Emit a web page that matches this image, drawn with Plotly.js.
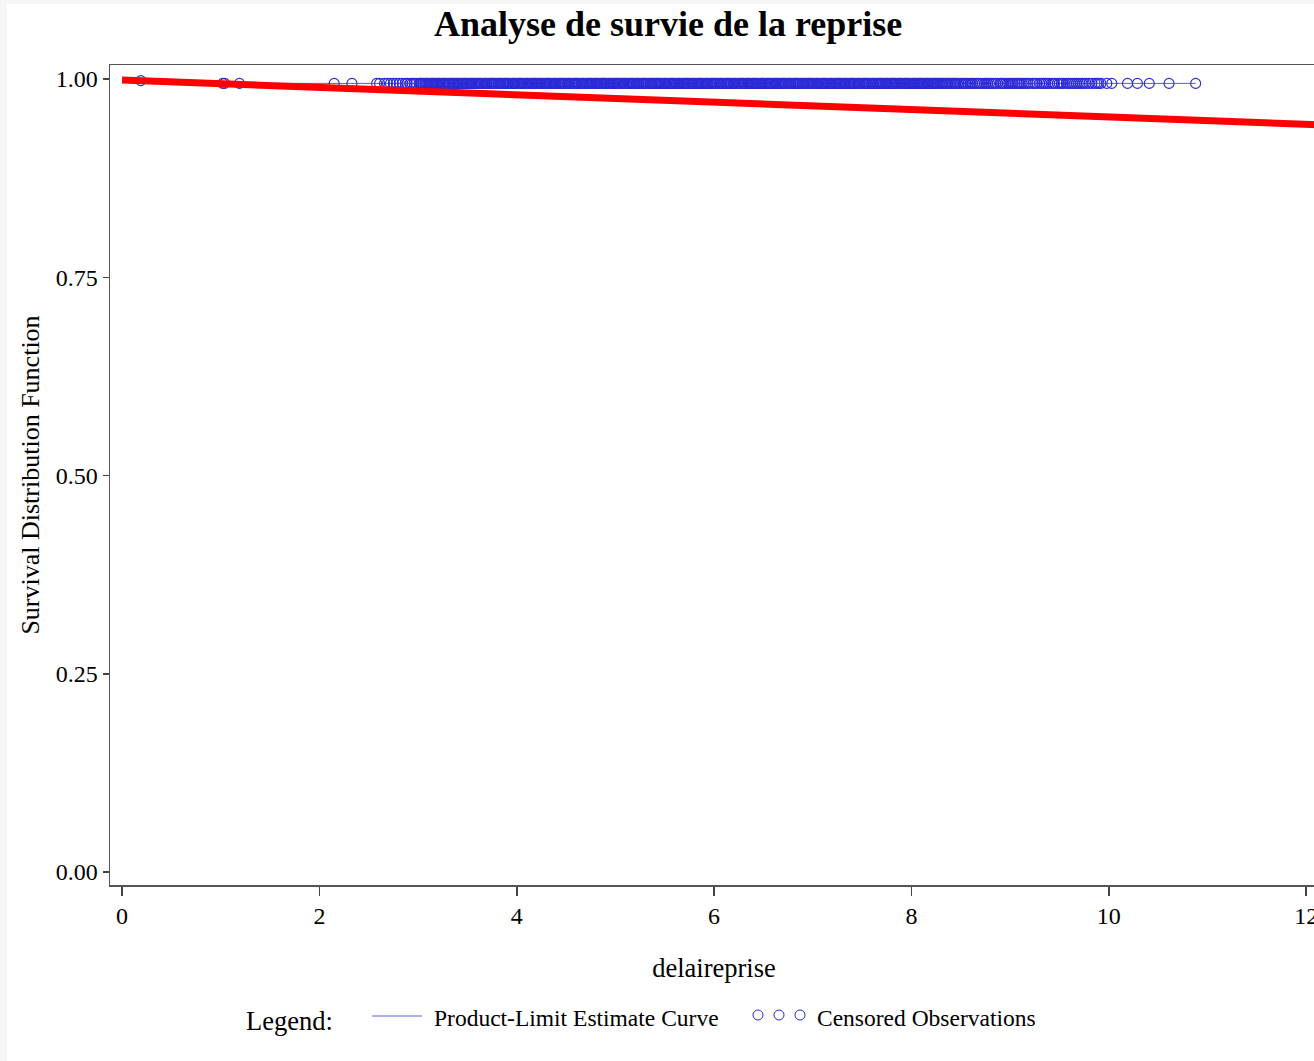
<!DOCTYPE html>
<html>
<head>
<meta charset="utf-8">
<script src="https://cdn.plot.ly/plotly-3.0.1.min.js"></script>
<style>
html,body{margin:0;padding:0;background:#f6f6f6;overflow:hidden;}
#chart{position:absolute;left:7px;top:4px;width:1323px;height:1057px;background:#fff;}
</style>
</head>
<body>
<div id="chart"></div>
<script>
// Product-limit (Kaplan-Meier) step curve
const kmTimes = [0, 0.10, 0.60, 10.88];
const kmSurv  = [1.000, 0.998, 0.9945, 0.9945];

// Censored observation times (delaireprise)
const censorTimesA = [
0.19, 1.02, 1.04, 1.19, 2.15, 2.33, 2.58, 2.61, 2.66, 2.69, 2.72, 2.75, 2.78, 2.81, 2.84, 2.87, 2.89, 2.92, 2.94, 2.96, 2.98,
3.01, 3.03, 3.04, 3.07, 3.09, 3.10, 3.13, 3.15, 3.16, 3.19, 3.21, 3.22, 3.25, 3.27, 3.28, 3.31, 3.33, 3.35, 3.36, 3.39, 3.41, 3.42, 3.45, 3.47, 3.49, 3.50, 3.53, 3.55, 3.56, 3.59, 3.61, 3.63, 3.64, 3.67, 3.69, 3.70, 3.73, 3.75, 3.77, 3.78, 3.81, 3.83, 3.84, 3.87, 3.89, 3.91, 3.92, 3.95, 3.97, 3.98,
4.01, 4.03, 4.05, 4.06, 4.09, 4.11, 4.12, 4.15, 4.17, 4.19, 4.20, 4.23, 4.25, 4.26, 4.29, 4.31, 4.33, 4.34, 4.37, 4.39, 4.40, 4.43, 4.45, 4.47, 4.48, 4.51, 4.53, 4.54, 4.57, 4.59, 4.61, 4.62, 4.65, 4.67, 4.68, 4.71, 4.73, 4.75, 4.76, 4.79, 4.81, 4.82, 4.85, 4.87, 4.89, 4.90, 4.93, 4.95, 4.96, 4.99,
5.01, 5.03, 5.04, 5.07, 5.09, 5.10, 5.13, 5.15, 5.17, 5.18, 5.21, 5.23, 5.24, 5.27, 5.29, 5.31, 5.32, 5.35, 5.37, 5.38, 5.41, 5.43, 5.45, 5.46, 5.49, 5.51, 5.52, 5.55, 5.57, 5.59, 5.60, 5.63, 5.65, 5.66, 5.69, 5.71, 5.73, 5.74, 5.77, 5.79, 5.80, 5.83, 5.85, 5.87, 5.88, 5.91, 5.93, 5.94, 5.97, 5.99,
6.01, 6.02, 6.05, 6.07, 6.08, 6.11, 6.13, 6.15, 6.16, 6.19, 6.21, 6.22, 6.25, 6.27, 6.29, 6.30, 6.33, 6.35, 6.36, 6.39, 6.41, 6.43, 6.44, 6.47, 6.49, 6.50, 6.53, 6.55, 6.57, 6.58, 6.61, 6.63, 6.64, 6.67, 6.69, 6.71, 6.72, 6.75, 6.77, 6.78, 6.81, 6.83, 6.85, 6.86, 6.89, 6.91, 6.92, 6.95, 6.97, 6.99,
7.00, 7.03, 7.05, 7.06, 7.09, 7.11, 7.13, 7.14, 7.17, 7.19, 7.20, 7.23, 7.25, 7.27, 7.28, 7.31, 7.33, 7.34, 7.37, 7.39, 7.41, 7.42, 7.45, 7.47, 7.48, 7.51, 7.53, 7.55, 7.56, 7.59, 7.61, 7.62, 7.65, 7.67, 7.69, 7.70, 7.73, 7.75, 7.76, 7.79, 7.81, 7.83, 7.84, 7.87, 7.89, 7.90, 7.93, 7.95, 7.97, 7.98,
8.01, 8.03, 8.04, 8.07, 8.09, 8.11, 8.12, 8.15, 8.17, 8.18, 8.21, 8.23, 8.25, 8.27, 8.30, 8.32, 8.35, 8.37, 8.40, 8.43, 8.45, 8.48, 8.52, 8.55, 8.59, 8.62, 8.66, 8.70, 8.74, 8.77, 8.81, 8.85, 8.90, 8.93, 8.97,
9.00, 9.03, 9.07, 9.10, 9.14, 9.18, 9.23, 9.27, 9.32, 9.36, 9.40, 9.45, 9.50, 9.54, 9.57, 9.61, 9.65, 9.69, 9.73, 9.77, 9.83, 9.88, 9.90, 9.98,
10.03, 10.19, 10.29, 10.41, 10.61, 10.88
];
const censorTimesB = [
3.02, 3.055, 3.08, 3.115, 3.14, 3.175, 3.20, 3.235, 3.26, 3.295, 3.32, 3.345, 3.375, 3.40, 3.435, 3.46, 3.48, 3.515, 3.54, 3.575, 3.60, 3.62, 3.655, 3.68, 3.715, 3.74, 3.76, 3.795, 3.82, 3.855, 3.88, 3.90, 3.935, 3.96, 3.99,
4.02, 4.04, 4.075, 4.10, 4.135, 4.16, 4.18, 4.215, 4.24, 4.275, 4.30, 4.32, 4.355, 4.38, 4.415, 4.44, 4.46, 4.495, 4.52, 4.555, 4.58, 4.60, 4.635, 4.66, 4.695, 4.72, 4.74, 4.775, 4.80, 4.835, 4.86, 4.88, 4.915, 4.94, 4.975,
5.00, 5.02, 5.055, 5.08, 5.115, 5.14, 5.16, 5.195, 5.22, 5.255, 5.28, 5.30, 5.335, 5.36, 5.395, 5.42, 5.44, 5.475, 5.50, 5.535, 5.56, 5.58, 5.615, 5.64, 5.675, 5.70, 5.72, 5.755, 5.78, 5.815, 5.84, 5.86, 5.895, 5.92, 5.955, 5.98,
6.00, 6.035, 6.06, 6.095, 6.12, 6.14, 6.175, 6.20, 6.235, 6.26, 6.28, 6.315, 6.34, 6.375, 6.40, 6.42, 6.455, 6.48, 6.515, 6.54, 6.56, 6.595, 6.62, 6.655, 6.68, 6.70, 6.735, 6.76, 6.795, 6.82, 6.84, 6.875, 6.90, 6.935, 6.96, 6.98,
7.015, 7.04, 7.075, 7.10, 7.12, 7.155, 7.18, 7.215, 7.24, 7.26, 7.295, 7.32, 7.355, 7.38, 7.40, 7.435, 7.46, 7.495, 7.52, 7.54, 7.575, 7.60, 7.635, 7.66, 7.68, 7.715, 7.74, 7.775, 7.80, 7.82, 7.855, 7.88, 7.915, 7.94, 7.96, 7.995,
8.02, 8.055, 8.08, 8.10, 8.135, 8.16, 8.195, 8.22, 8.24, 8.26, 8.285, 8.31, 8.335, 8.36, 8.385, 8.415, 8.44, 8.465, 8.50, 8.535, 8.57, 8.605, 8.64, 8.68, 8.72, 8.755, 8.79, 8.83, 8.87, 8.915, 8.95, 8.985,
9.02, 9.05, 9.085, 9.12, 9.16, 9.20, 9.25, 9.30, 9.34, 9.38, 9.43, 9.48, 9.52, 9.59, 9.63, 9.67, 9.71, 9.75, 9.80, 9.86, 9.92
];
const censorTimes = censorTimesA.concat(censorTimesB);

// Fitted (red) survival line end points
const fitTimes = [0, 12.20];
const fitSurv  = [0.9987, 0.9420];

const xTickVals = [0, 2, 4, 6, 8, 10, 12];
const yTickVals = [0, 0.25, 0.5, 0.75, 1];
const yTickText = ['0.00', '0.25', '0.50', '0.75', '1.00'];

const titleText = 'Analyse de survie de la reprise';
const xTitle = 'delaireprise';
const yTitle = 'Survival Distribution Function';
const legendLabel = 'Legend:';
const legendNames = ['Product-Limit Estimate Curve', 'Censored Observations'];

function survAt(t) {
  let s = kmSurv[0];
  for (let i = 0; i < kmTimes.length; i++) { if (kmTimes[i] <= t) s = kmSurv[i]; }
  return s;
}
const censorSurv = censorTimes.map(survAt);

const FONT = 'Liberation Serif, Times New Roman, serif';
const blueLine = '#5a5ae6';
const blueMark = '#2a2ad6';

const traces = [
  { x: kmTimes, y: kmSurv, type: 'scatter', mode: 'lines', line: {shape: 'hv', color: blueLine, width: 1}, name: legendNames[0], hoverinfo: 'skip' },
  { x: censorTimes, y: censorSurv, type: 'scatter', mode: 'markers', marker: {symbol: 'circle-open', size: 10, color: blueMark, line: {width: 1.1, color: blueMark}}, name: legendNames[1] },
  { x: fitTimes, y: fitSurv, type: 'scatter', mode: 'lines', line: {color: '#ff0000', width: 7}, name: 'fit' }
];

// plot area in page pixels: x 110..1318, y 65..885
const PX0 = 110, PX1 = 1318, PY0 = 65, PY1 = 885;
const px = v => (v - PX0) / (PX1 - PX0);
const py = v => (PY1 - v) / (PY1 - PY0);

const circleShapes = [758, 779, 800].map(cx => ({
  type: 'circle', xref: 'paper', yref: 'paper', xsizemode: 'pixel', ysizemode: 'pixel',
  xanchor: px(cx), yanchor: py(1015), x0: -5, x1: 5, y0: -5, y1: 5,
  line: {color: blueMark, width: 1}
}));

const layout = {
  width: 1323, height: 1057,
  margin: {l: 103, r: 12, t: 61, b: 176},
  paper_bgcolor: '#ffffff', plot_bgcolor: '#ffffff',
  showlegend: false,
  font: {family: FONT, color: '#000'},
  title: {text: '<b>' + titleText + '</b>', font: {family: FONT, size: 36, color: '#000'}, xref: 'container', yref: 'container', x: 0.4997, y: 1 - 19/1057, xanchor: 'center', yanchor: 'middle'},
  xaxis: {
    range: [-0.122, 12.12], tickvals: xTickVals, ticks: 'outside', ticklen: 9, tickwidth: 1.5, tickcolor: '#444',
    showline: true, linecolor: '#555', linewidth: 1.5, mirror: true, showgrid: false, zeroline: false,
    tickfont: {family: FONT, size: 24, color: '#000'},
    title: {text: xTitle, font: {family: FONT, size: 26.5, color: '#000'}, standoff: 30}
  },
  yaxis: {
    range: [-0.0164, 1.0177], tickvals: yTickVals, ticktext: yTickText, ticks: 'outside', ticklen: 6, tickwidth: 1.5, tickcolor: '#444',
    showline: true, linecolor: '#555', linewidth: 1.5, mirror: true, showgrid: false, zeroline: false,
    tickfont: {family: FONT, size: 24, color: '#000'},
    title: {text: yTitle, font: {family: FONT, size: 26, color: '#000'}, standoff: 8}
  },
  shapes: [
    {type: 'line', xref: 'paper', yref: 'paper', x0: px(372), x1: px(422), y0: py(1016), y1: py(1016), line: {color: blueLine, width: 1}}
  ].concat(circleShapes),
  annotations: [
    {text: legendLabel, xref: 'paper', yref: 'paper', x: px(244), y: py(1021), xanchor: 'left', yanchor: 'middle', showarrow: false, font: {family: FONT, size: 26.5, color: '#000'}},
    {text: legendNames[0], xref: 'paper', yref: 'paper', x: px(432), y: py(1018), xanchor: 'left', yanchor: 'middle', showarrow: false, font: {family: FONT, size: 23.5, color: '#000'}},
    {text: legendNames[1], xref: 'paper', yref: 'paper', x: px(815), y: py(1018), xanchor: 'left', yanchor: 'middle', showarrow: false, font: {family: FONT, size: 23.5, color: '#000'}}
  ]
};

Plotly.newPlot('chart', traces, layout, {displayModeBar: false, staticPlot: true});
</script>
</body>
</html>
